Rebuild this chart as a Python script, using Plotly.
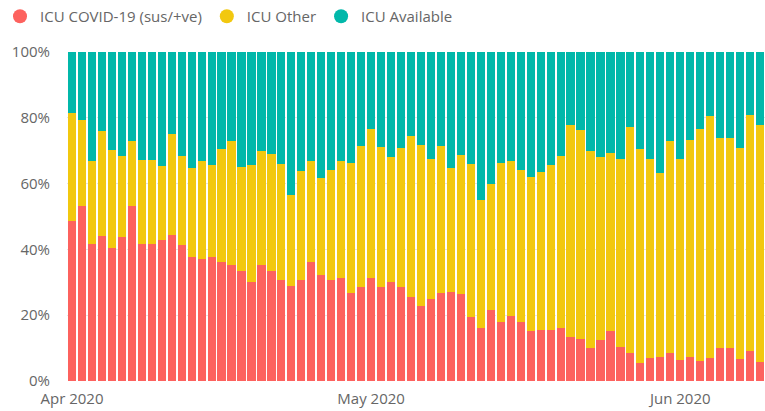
import pandas as pd
import plotly.graph_objects as go

# Daily ICU bed occupancy share (%), 1 Apr - 9 Jun 2020
dates = pd.date_range("2020-04-01", "2020-06-09", freq="D")

icu_covid = [
    48.6, 53.3, 41.5, 44.2, 40.4, 43.7, 53.3, 41.5, 41.5, 43.0,
    44.5, 41.2, 37.8, 37.2, 37.7, 36.1, 35.2, 33.4, 30.2, 35.4,
    33.4, 30.8, 28.8, 30.8, 36.2, 32.2, 30.6, 31.4, 26.6, 28.6,
    31.4, 28.7, 30.2, 28.6, 25.4, 22.7, 24.8, 26.8, 27.0, 26.5,
    19.4, 16.2, 21.5, 17.9, 19.9, 18.0, 15.2, 15.5, 15.5, 16.2,
    13.3, 12.8, 9.9, 12.4, 15.3, 10.2, 8.6, 5.5, 7.0, 7.3,
    8.6, 6.5, 7.4, 6.0, 7.0, 9.9, 9.9, 6.8, 9.1, 5.8,
]

icu_other = [
    32.9, 26.1, 25.5, 31.9, 29.9, 24.8, 19.6, 25.8, 25.8, 22.3,
    30.6, 27.1, 27.0, 29.6, 28.1, 34.5, 37.8, 31.7, 35.4, 34.6,
    35.7, 35.2, 27.6, 33.0, 30.6, 29.6, 33.4, 35.4, 39.8, 42.8,
    45.2, 42.5, 37.8, 42.1, 49.2, 48.9, 42.6, 44.5, 37.6, 42.1,
    46.7, 38.9, 38.4, 48.3, 47.1, 46.0, 46.9, 48.0, 50.3, 52.1,
    64.4, 63.5, 60.1, 55.6, 54.1, 57.2, 68.7, 65.1, 60.4, 55.9,
    64.3, 60.9, 66.0, 70.6, 73.5, 64.0, 64.0, 63.9, 71.9, 72.0,
]

icu_available = [
    18.5, 20.6, 33.0, 23.9, 29.7, 31.5, 27.1, 32.7, 32.7, 34.7,
    24.9, 31.7, 35.2, 33.2, 34.2, 29.4, 27.0, 34.9, 34.4, 30.0,
    30.9, 34.0, 43.6, 36.2, 33.2, 38.2, 36.0, 33.2, 33.6, 28.6,
    23.4, 28.8, 32.0, 29.3, 25.4, 28.4, 32.6, 28.7, 35.4, 31.4,
    33.9, 44.9, 40.1, 33.8, 33.0, 36.0, 37.9, 36.5, 34.2, 31.7,
    22.3, 23.7, 30.0, 32.0, 30.6, 32.6, 22.7, 29.4, 32.6, 36.8,
    27.1, 32.6, 26.6, 23.4, 19.5, 26.1, 26.1, 29.3, 19.0, 22.2,
]

series_names = ["ICU COVID-19 (sus/+ve)", "ICU Other", "ICU Available"]
series_colors = ["#FD625E", "#F2C80F", "#01B8AA"]

tick_dates = ["2020-04-01", "2020-05-01", "2020-06-01"]
tick_labels = ["Apr 2020", "May 2020", "Jun 2020"]
y_ticks = [0, 20, 40, 60, 80, 100]
y_tick_labels = ["0%", "20%", "40%", "60%", "80%", "100%"]

FONT = "Open Sans, DejaVu Sans, sans-serif"
TEXT_GREY = "#666666"

fig = go.Figure()

for name, values, color in zip(series_names, [icu_covid, icu_other, icu_available], series_colors):
    fig.add_trace(go.Bar(
        x=dates, y=values, name=name,
        marker=dict(color=color, line=dict(width=0)),
        showlegend=False,
    ))

# Round legend markers
for name, color in zip(series_names, series_colors):
    fig.add_trace(go.Scatter(
        x=[None], y=[None], mode="markers", name=name,
        marker=dict(symbol="circle", size=14, color=color),
    ))

fig.update_layout(
    width=765, height=411,
    margin=dict(l=67, r=0, t=52, b=30),
    barmode="stack", barnorm="percent", bargap=0.18,
    plot_bgcolor="white", paper_bgcolor="white",
    font=dict(family=FONT, size=15, color=TEXT_GREY),
    legend=dict(
        orientation="h", xref="container", yref="container",
        x=-0.008, y=1.0, xanchor="left", yanchor="top",
        traceorder="normal",
        font=dict(size=15, color=TEXT_GREY),
        itemclick=False, tracegroupgap=0,
    ),
    xaxis=dict(
        range=[pd.Timestamp("2020-03-31 12:00"), pd.Timestamp("2020-06-09 12:00")],
        tickmode="array", tickvals=tick_dates, ticktext=tick_labels,
        showgrid=False, zeroline=False, showline=False,
        ticks="outside", ticklen=4, tickcolor="white",
        tickfont=dict(size=15, color=TEXT_GREY),
    ),
    yaxis=dict(
        range=[0, 100],
        tickmode="array", tickvals=y_ticks, ticktext=y_tick_labels,
        showgrid=True, gridcolor="#E4E4E4", griddash="dot", gridwidth=1,
        zeroline=False, showline=False,
        ticks="outside", ticklen=13, tickcolor="white",
        tickfont=dict(size=15, color=TEXT_GREY),
    ),
)

fig.write_html("out.html")
